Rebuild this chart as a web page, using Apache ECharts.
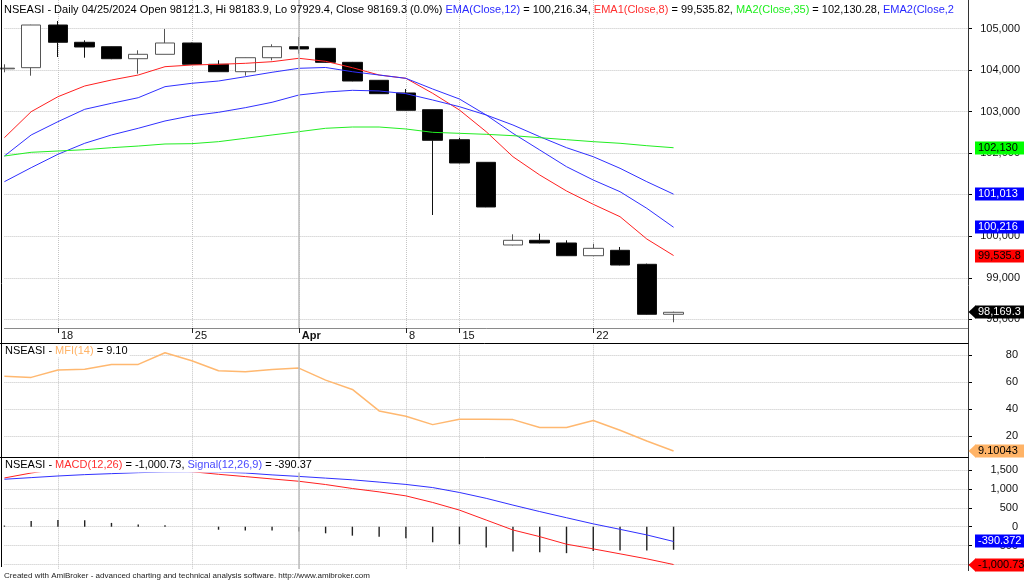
<!DOCTYPE html>
<html>
<head>
<meta charset="utf-8">
<script src="https://cdn.jsdelivr.net/npm/echarts/dist/echarts.min.js"></script>
<style>html,body{margin:0;padding:0;background:#fff;}#c{width:1024px;height:583px;}</style>
</head>
<body>
<div id="c"></div>
<script>
// ---------- data ----------
const categories = ['03/14','03/15','03/18','03/19','03/20','03/21','03/22','03/25','03/26','03/27','03/28',
  '04/02','04/03','04/04','04/05','04/08','04/09','04/15','04/16','04/17','04/18','04/19','04/22','04/23','04/24','04/25',
  '04/26','04/29','04/30','05/02','05/03','05/06','05/07','05/08','05/09','05/10','05/13'];
const dateTickLabels = {'03/18':'18','03/25':'25','04/02':'Apr','04/08':'8','04/15':'15','04/22':'22'};
const monthStart = '04/02';

const opens  = [104030,104057,105084,104668,104562,104273,104379,104651,104138,103960,104297,104562,104523,104186,103753,103448,103046,102323,101779,99789,99902,99837,99531,99661,99324,98121.3];
const closes = [104045,105084,104668,104555,104273,104379,104651,104138,103960,104297,104562,104507,104186,103736,103431,103031,102309,101763,100704,99902,99837,99531,99709,99307,98121,98169.3];
const lows   = [103946,103864,104314,104297,104262,103912,104379,104130,103955,103864,104235,104393,104180,103730,103425,103025,100511,101755,100700,99780,99830,99525,99531,99300,98115,97929.4];
const highs  = [104138,105090,105180,104716,104565,104475,104988,104660,104235,104300,104620,104795,104530,104195,103760,103544,103050,102370,101785,100046,100062,99902,99820,99741,99340,98183.9];

const ema8  = [102372,102998,103358,103616,103760,103880,104081,104121,104138,104162,104201,104283,104210,104057,103880,103801,103440,103038,102516,101914,101474,101089,100768,100470,99933,99535.82];
const ema12 = [101931,102437,102757,103055,103199,103334,103600,103681,103736,103840,103946,104042,104062,103960,103880,103801,103544,103303,102918,102477,102076,101674,101353,101072,100672,100216.34];
const ema20 = [101313,101650,101972,102237,102437,102598,102774,102901,102983,103094,103224,103399,103470,103512,103496,103431,103279,103118,102918,102677,102396,102131,101914,101635,101313,101013];
const ma35  = [101931,102020,102051,102083,102131,102171,102220,102228,102276,102357,102437,102516,102598,102629,102629,102581,102501,102477,102453,102420,102372,102324,102276,102237,102179,102130.28];

const mfi = [64.4,63.5,68.9,69.6,73.1,73.1,81.7,75.8,68.4,67.7,69.4,70.4,61.5,54.6,38.7,34.8,28.6,32.6,32.6,32.3,26.4,26.4,31.6,24.4,16.5,9.10043];

const macd   = [1289,1420,1521,1547,1503,1489,1487,1455,1386,1325,1263,1202,1115,1010,921,815,641,439,176,-87,-263,-463,-587,-718,-850,-1000.73];
const signal = [1255,1298,1341,1377,1403,1429,1447,1452,1445,1420,1370,1330,1285,1240,1180,1118,1035,905,750,571,400,237,75,-70,-218,-390.372];
const hist   = [30,150,180,170,100,60,40,0,-80,-100,-100,-130,-175,-237,-263,-307,-412,-465,-553,-658,-675,-700,-640,-630,-630,-610];

// ---------- helpers ----------
const FONT = '"Liberation Sans", Arial, sans-serif';
const last = a => a[a.length - 1];
const fmt6 = v => v.toLocaleString('en-US', {maximumSignificantDigits: 6});
const fmtInt = v => Math.round(v).toLocaleString('en-US');
const isTick = (i, v) => Object.prototype.hasOwnProperty.call(dateTickLabels, v);

const grids = [
  {left: 4.4, right: 56, top: 0, height: 328},
  {left: 4.4, right: 56, top: 343.3, height: 114},
  {left: 4.4, right: 56, top: 457.7, height: 111.3}
];

const xAxes = [0,1,2].map(i => ({
  type: 'category', gridIndex: i, data: categories, boundaryGap: false,
  axisLine: {show: i === 0, lineStyle: {color: '#8a8a8a', width: 1}},
  axisTick: {show: i === 0, interval: isTick, length: 5, lineStyle: {color: '#222'}},
  axisLabel: {show: i === 0, interval: isTick, align: 'left', margin: 2, padding: [0,0,0,3],
    fontSize: 11, fontFamily: FONT, color: '#111',
    formatter: v => v === monthStart ? '{b|' + dateTickLabels[v] + '}' : (dateTickLabels[v] || ''),
    rich: {b: {fontWeight: 'bold', fontSize: 11, fontFamily: FONT, color: '#111'}}},
  splitLine: {show: true, interval: isTick, lineStyle: {type: 'dotted', color: '#c4c4c4'}}
}));

function yAxisCfg(grid, min, max, step, labelFmt, margin) {
  return {
    type: 'value', gridIndex: grid, position: 'right', min, max,
    minInterval: step, maxInterval: step, splitNumber: Math.round((max - min) / step),
    axisLine: {show: false},
    axisTick: {show: true, length: 4, lineStyle: {color: '#000'}},
    axisLabel: {align: 'right', margin: margin, fontSize: 11, fontFamily: FONT, color: '#111',
      showMinLabel: false, showMaxLabel: false,
      formatter: v => (Math.abs(v % step) < 1e-6 ? labelFmt(v) : '')},
    splitLine: {show: true, showMinLine: false, showMaxLine: false, lineStyle: {type: 'dotted', color: '#c4c4c4'}}
  };
}

const aprLine = {silent: true, animation: false, symbol: ['none','none'], label: {show: false},
  lineStyle: {type: 'solid', color: '#bdbdbd', width: 1.5}, data: [{xAxis: monthStart}]};

const richBase = {fontSize: 11, fontFamily: FONT, fontWeight: 'normal'};
const rs = (color, lh) => Object.assign({color: color, lineHeight: lh}, richBase);

const option = {
  animation: false,
  backgroundColor: '#ffffff',
  textStyle: {fontFamily: FONT},
  title: [
    {left: 4, top: 3, padding: 0,
     text: '{k|NSEASI - Daily 04/25/2024 Open 98121.3, Hi 98183.9, Lo 97929.4, Close 98169.3 (0.0%) }{b|EMA(Close,12)}{k| = 100,216.34, }{r|EMA1(Close,8)}{k| = 99,535.82, }{g|MA2(Close,35)}{k| = 102,130.28, }{b|EMA2(Close,2}',
     textStyle: Object.assign({rich: {k: rs('#000', 13), b: rs('#2a2aff', 13), r: rs('#ff3030', 13), g: rs('#22ee22', 13)}}, richBase)},
    {left: 3, top: 344, padding: [1,2,1,2], backgroundColor: '#fff',
     text: '{k|NSEASI - }{o|MFI(14)}{k| = 9.10}',
     textStyle: Object.assign({rich: {k: rs('#000', 12), o: rs('#ffb366', 12)}}, richBase)},
    {left: 3, top: 458, padding: [1,2,2,2], backgroundColor: '#fff',
     text: '{k|NSEASI - }{r|MACD(12,26)}{k| = -1,000.73, }{b|Signal(12,26,9)}{k| = -390.37}',
     textStyle: Object.assign({rich: {k: rs('#000', 12), r: rs('#ff3030', 12), b: rs('#4a4aff', 12)}}, richBase)}
  ],
  grid: grids,
  xAxis: xAxes,
  yAxis: [
    yAxisCfg(0, 97791, 105686, 1000, fmtInt, 52),
    yAxisCfg(1, 4.44, 88.7, 20, v => String(v), 50),
    yAxisCfg(2, -1119, 1825, 500, fmtInt, 50)
  ],
  series: [
    {type: 'candlestick', xAxisIndex: 0, yAxisIndex: 0, clip: false, barWidth: 20,
     data: opens.map((o, i) => [o, closes[i], lows[i], highs[i]]),
     itemStyle: {color: '#ffffff', color0: '#000000', borderColor: '#555555', borderColor0: '#111111', borderWidth: 1},
     markLine: aprLine},
    {type: 'line', name: 'EMA1(Close,8)', xAxisIndex: 0, yAxisIndex: 0, data: ema8, showSymbol: false,
     lineStyle: {color: '#ff2020', width: 1}},
    {type: 'line', name: 'EMA(Close,12)', xAxisIndex: 0, yAxisIndex: 0, data: ema12, showSymbol: false,
     lineStyle: {color: '#3030ff', width: 1}},
    {type: 'line', name: 'EMA2(Close,20)', xAxisIndex: 0, yAxisIndex: 0, data: ema20, showSymbol: false,
     lineStyle: {color: '#3030ff', width: 1}},
    {type: 'line', name: 'MA2(Close,35)', xAxisIndex: 0, yAxisIndex: 0, data: ma35, showSymbol: false,
     lineStyle: {color: '#22ee22', width: 1}},
    {type: 'line', name: 'MFI(14)', xAxisIndex: 1, yAxisIndex: 1, data: mfi, showSymbol: false,
     lineStyle: {color: '#ffb870', width: 1.5}, markLine: aprLine},
    {type: 'bar', name: 'Hist', xAxisIndex: 2, yAxisIndex: 2, data: hist, barWidth: 1.4,
     itemStyle: {color: '#222'}, markLine: aprLine},
    {type: 'line', name: 'Signal', xAxisIndex: 2, yAxisIndex: 2, data: signal, showSymbol: false,
     lineStyle: {color: '#3030ff', width: 1}},
    {type: 'line', name: 'MACD', xAxisIndex: 2, yAxisIndex: 2, data: macd, showSymbol: false,
     lineStyle: {color: '#ff2020', width: 1}}
  ]
};

const chart = echarts.init(document.getElementById('c'), null, {renderer: 'canvas'});
chart.setOption(option);

// right-edge value tags (positioned through the axes' own scales)
const valueTags = [
  {axis: 0, value: last(ma35),   bg: '#00ff00', fg: '#000', arrow: false},
  {axis: 0, value: last(ema20),  bg: '#0000ff', fg: '#fff', arrow: false},
  {axis: 0, value: last(ema12),  bg: '#0000ff', fg: '#fff', arrow: false},
  {axis: 0, value: last(ema8),   bg: '#ff0000', fg: '#000', arrow: false},
  {axis: 0, value: last(closes), bg: '#000000', fg: '#fff', arrow: true},
  {axis: 1, value: last(mfi),    bg: '#ffb366', fg: '#000', arrow: true},
  {axis: 2, value: last(signal), bg: '#0000ff', fg: '#fff', arrow: false},
  {axis: 2, value: last(macd),   bg: '#ff0000', fg: '#000', arrow: true}
];
const g = [
  {type: 'line', silent: true, z: 50, shape: {x1: 1.5, y1: 0, x2: 1.5, y2: 567}, style: {stroke: '#000', lineWidth: 1}},
  {type: 'line', silent: true, z: 50, shape: {x1: 968.5, y1: 0, x2: 968.5, y2: 571}, style: {stroke: '#333', lineWidth: 1}},
  {type: 'line', silent: true, z: 50, shape: {x1: 0, y1: 343.5, x2: 968.5, y2: 343.5}, style: {stroke: '#000', lineWidth: 1}},
  {type: 'line', silent: true, z: 50, shape: {x1: 0, y1: 457.5, x2: 968.5, y2: 457.5}, style: {stroke: '#000', lineWidth: 1}},
  {type: 'text', silent: true, left: 4, top: 572,
   style: {text: 'Created with AmiBroker - advanced charting and technical analysis software. http://www.amibroker.com',
     fontSize: 8, fontFamily: FONT, fill: '#222'}}
];
valueTags.forEach(t => {
  const y = Math.round(chart.convertToPixel({yAxisIndex: t.axis}, t.value));
  g.push({type: 'rect', silent: true, z: 101, shape: {x: 975, y: y - 6.5, width: 60, height: 13}, style: {fill: t.bg}});
  g.push({type: 'text', silent: true, z: 102, x: 978, y: y,
    style: {text: fmt6(t.value), fill: t.fg, fontSize: 11, fontFamily: FONT, verticalAlign: 'middle', align: 'left'}});
  if (t.arrow) {
    g.push({type: 'polygon', silent: true, z: 101,
      shape: {points: [[968.5, y], [975.5, y - 6.5], [975.5, y + 6.5]]}, style: {fill: t.bg}});
  }
});
chart.setOption({graphic: g});
</script>
</body>
</html>
